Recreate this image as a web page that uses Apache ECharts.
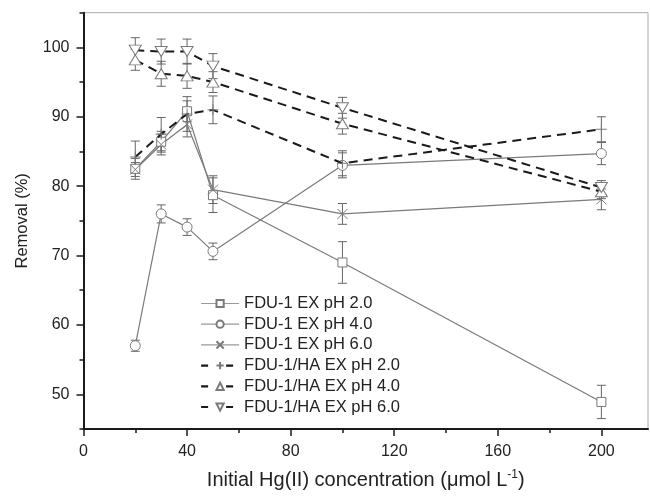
<!DOCTYPE html>
<html>
<head>
<meta charset="utf-8">
<script src="https://cdn.jsdelivr.net/npm/echarts@6/dist/echarts.min.js"></script>
<style>
  html, body { margin: 0; padding: 0; background: #fff; }
  #main { width: 650px; height: 496px; }
</style>
</head>
<body>
<div id="main"></div>
<script>
// concentrations (umol/L)
var conc = [20, 30, 40, 50, 100, 200]

// removal (%)
var fduPh2 = [82.5, 86.4, 90.8, 78.7, 69.0, 48.9]
var fduPh4 = [57.0, 76.0, 74.1, 70.6, 83.0, 84.7]
var fduPh6 = [82.4, 86.0, 88.9, 79.5, 76.0, 78.1]
var haPh2 = [84.2, 87.5, 90.4, 91.0, 83.3, 88.2]
var haPh4 = [98.2, 96.2, 95.9, 95.0, 89.0, 79.2]
var haPh6 = [99.6, 99.4, 99.4, 97.3, 91.3, 79.8]

// error bars (+/-)
var errFduPh2 = [1.5, 1.5, 1.5, 2.5, 3.0, 2.4]
var errFduPh4 = [0.8, 1.3, 1.2, 1.2, 1.8, 1.6]
var errFduPh6 = [1.0, 1.5, 1.8, 2.0, 1.5, 1.5]
var errHaPh2 = [2.3, 2.4, 2.5, 2.0, 1.8, 1.8]
var errHaPh4 = [1.5, 1.8, 1.8, 1.5, 1.5, 1.0]
var errHaPh6 = [1.8, 1.8, 1.8, 1.8, 1.5, 1.0]

var names = [
  'FDU-1 EX pH 2.0', 'FDU-1 EX pH 4.0', 'FDU-1 EX pH 6.0',
  'FDU-1/HA EX pH 2.0', 'FDU-1/HA EX pH 4.0', 'FDU-1/HA EX pH 6.0'
]
var xLabels = [0, 40, 80, 120, 160, 200]
var yLabels = [50, 60, 70, 80, 90, 100]

var gray = '#7a7a7a'
var dark = '#1a1a1a'
var font = 'Liberation Sans, Arial, sans-serif'

function pairs (ys) {
  return conc.map(function (x, i) { return [x, ys[i]] })
}

// all error bars in one custom series
var errData = []
;[[fduPh2, errFduPh2], [fduPh4, errFduPh4], [fduPh6, errFduPh6],
  [haPh2, errHaPh2], [haPh4, errHaPh4], [haPh6, errHaPh6]].forEach(function (s) {
  conc.forEach(function (x, i) {
    errData.push([x, s[0][i] - s[1][i], s[0][i] + s[1][i]])
  })
})

function renderErr (params, api) {
  var x = api.value(0)
  var lo = api.coord([x, api.value(1)])
  var hi = api.coord([x, api.value(2)])
  var w = 4.5
  var st = { stroke: '#666', lineWidth: 1 }
  return {
    type: 'group',
    children: [
      { type: 'line', shape: { x1: lo[0], y1: lo[1], x2: hi[0], y2: hi[1] }, style: st },
      { type: 'line', shape: { x1: lo[0] - w, y1: lo[1], x2: lo[0] + w, y2: lo[1] }, style: st },
      { type: 'line', shape: { x1: hi[0] - w, y1: hi[1], x2: hi[0] + w, y2: hi[1] }, style: st }
    ]
  }
}

function lineSeries (name, ys, symbol, size, dashed, rotate) {
  return {
    name: name,
    type: 'line',
    data: pairs(ys),
    symbol: symbol,
    symbolSize: size,
    symbolRotate: rotate || 0,
    z: dashed ? 4 : 3,
    lineStyle: dashed
      ? { color: dark, width: 2, type: [9, 6] }
      : { color: gray, width: 1.2 },
    itemStyle: { color: '#fff', borderColor: gray, borderWidth: 1 }
  }
}

// legend icons: thin grey for solid series, short black dashes for the HA ones
var legendData = names.map(function (n, i) {
  return {
    name: n,
    lineStyle: i < 3
      ? { color: '#999', width: 1.2, type: 'solid' }
      : { color: dark, width: 2.2, type: [7, 18] }
  }
})

var chart = echarts.init(document.getElementById('main'))
chart.setOption({
  animation: false,
  textStyle: { fontFamily: font },
  grid: {
    left: 83.5,
    right: 2,
    top: 12.7,
    bottom: 67,
    show: true,
    borderColor: '#aaa',
    borderWidth: 1
  },
  legend: {
    orient: 'vertical',
    left: 195,
    top: 290,
    itemWidth: 38,
    itemHeight: 9,
    itemGap: 3.7,
    textStyle: { fontSize: 16.5, color: '#222', fontFamily: font },
    data: legendData
  },
  xAxis: [
    {
      type: 'value',
      min: 0,
      max: 218,
      interval: 20,
      splitLine: { show: false },
      axisLine: { show: true, lineStyle: { color: dark, width: 2 } },
      axisTick: { customValues: xLabels, length: 7, lineStyle: { color: dark, width: 1.5 } },
      axisLabel: { customValues: xLabels, fontSize: 16, color: '#222', margin: 15 },
      name: 'Initial Hg(II) concentration (\u03bcmol L{sup|-1})',
      nameLocation: 'middle',
      nameGap: 40,
      nameTextStyle: {
        fontSize: 20,
        color: '#222',
        rich: { sup: { fontSize: 12, padding: [0, 0, 10, 0] } }
      }
    },
    {
      type: 'value',
      position: 'bottom',
      min: 0,
      max: 218,
      interval: 20,
      splitLine: { show: false },
      axisLine: { show: false },
      axisTick: { customValues: [20, 60, 100, 140, 180], length: 4, lineStyle: { color: dark, width: 1.5 } },
      axisLabel: { show: false }
    }
  ],
  yAxis: [
    {
      type: 'value',
      min: 45,
      max: 105,
      interval: 5,
      splitLine: { show: false },
      axisLine: { show: true, lineStyle: { color: dark, width: 2 } },
      axisTick: { customValues: yLabels, length: 7, lineStyle: { color: dark, width: 1.5 } },
      axisLabel: { customValues: yLabels, fontSize: 16, color: '#222', margin: 14 },
      name: 'Removal (%)',
      nameLocation: 'middle',
      nameGap: 53,
      nameTextStyle: { fontSize: 16.5, color: '#222' }
    },
    {
      type: 'value',
      position: 'left',
      min: 45,
      max: 105,
      interval: 5,
      splitLine: { show: false },
      axisLine: { show: false },
      axisTick: { customValues: [45, 55, 65, 75, 85, 95, 105], length: 4, lineStyle: { color: dark, width: 1.5 } },
      axisLabel: { show: false }
    }
  ],
  series: [
    {
      type: 'custom',
      renderItem: renderErr,
      data: errData,
      z: 2,
      silent: true
    },
    lineSeries(names[0], fduPh2, 'rect', 9, false),
    lineSeries(names[1], fduPh4, 'circle', 10, false),
    lineSeries(names[2], fduPh6, 'path://M0,0L10,10M10,0L0,10', 10, false),
    lineSeries(names[3], haPh2, 'path://M5,0L5,10M0,5L10,5', 11, true),
    lineSeries(names[4], haPh4, 'triangle', [12, 10], true),
    lineSeries(names[5], haPh6, 'triangle', [12, 10], true, 180)
  ]
})
</script>
</body>
</html>
